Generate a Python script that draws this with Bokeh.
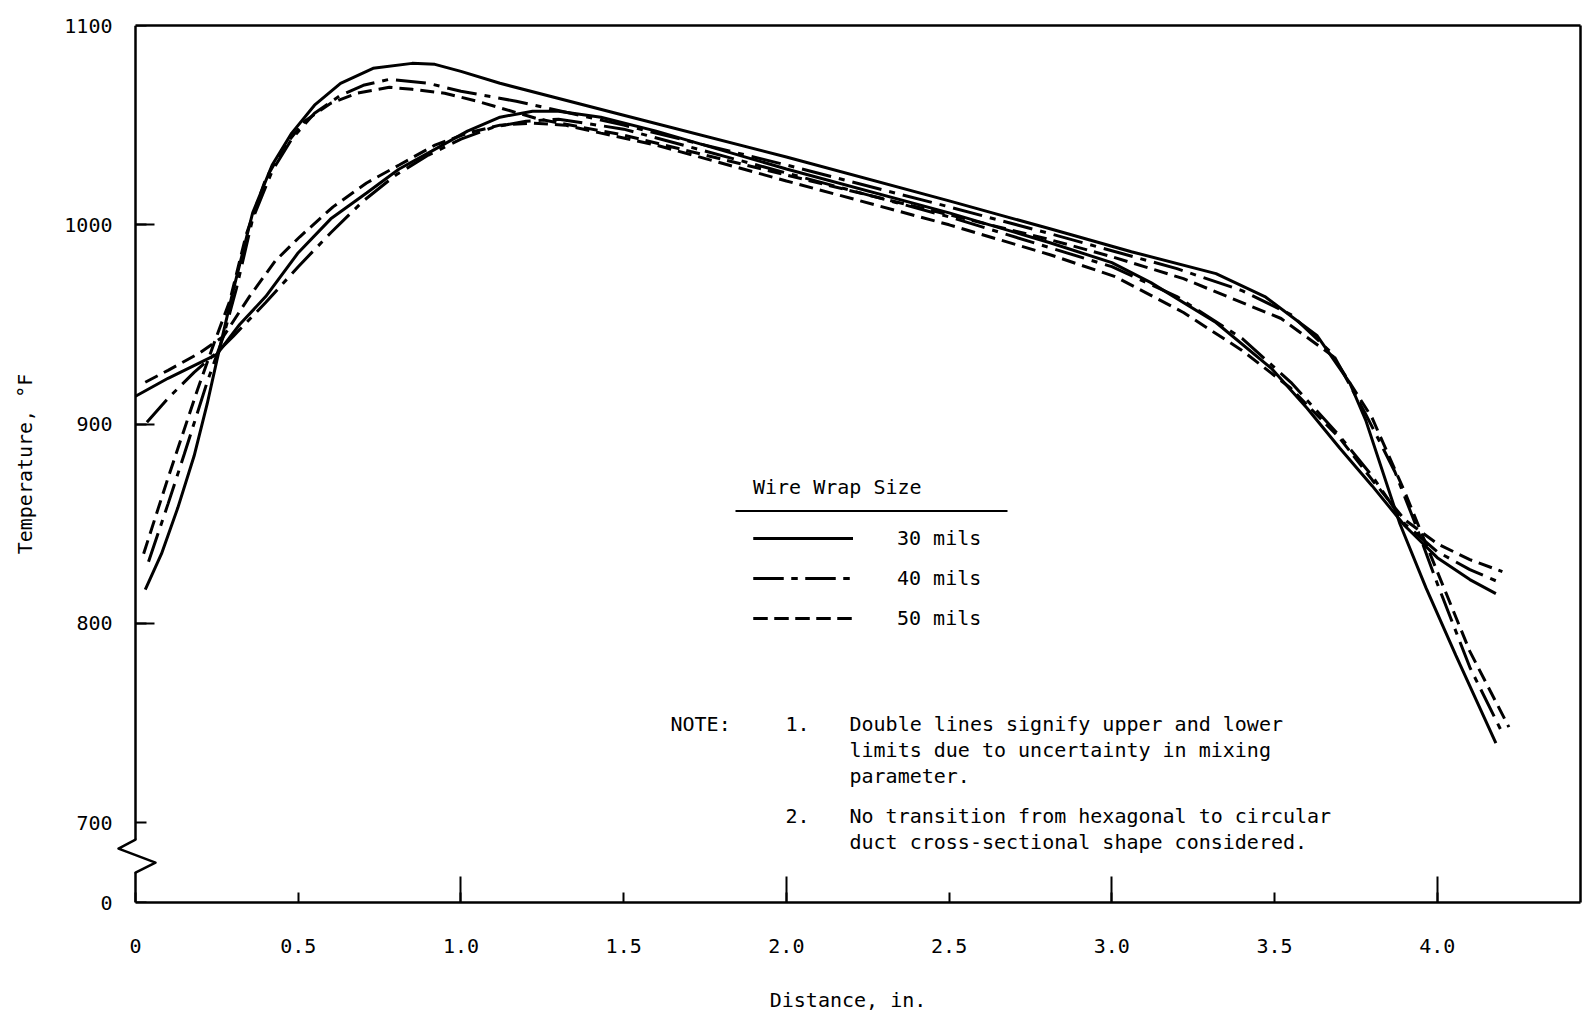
from bokeh.plotting import figure
from bokeh.models import (Range1d, FixedTicker, LinearAxis, Legend, LegendItem,
                          Label, PolyAnnotation)
from bokeh.embed import file_html
from bokeh.resources import INLINE

# ---------------- data ----------------
x_ticks = [0.0, 0.5, 1.0, 1.5, 2.0, 2.5, 3.0, 3.5, 4.0]
x_tick_labels = ["0", "0.5", "1.0", "1.5", "2.0", "2.5", "3.0", "3.5", "4.0"]
x_long_ticks = [1.0, 2.0, 3.0, 4.0]
y_ticks = [660, 700, 800, 900, 1000, 1100]
y_tick_labels = ["0", "700", "800", "900", "1000", "1100"]
y_long_ticks = [800, 900, 1000]

# upper-peak family (steep)
a30_x = [0.03, 0.08, 0.13, 0.18, 0.22, 0.25, 0.30, 0.36, 0.42, 0.48, 0.55, 0.63, 0.73, 0.85, 0.92,
         1.00, 1.12, 1.50, 2.00, 2.50, 2.81, 3.06, 3.32, 3.47, 3.63, 3.73, 3.78, 3.885, 3.965, 4.057, 4.18]
a30_t = [817, 835, 858, 884, 910, 932, 967, 1006, 1030, 1046, 1060, 1071, 1078.5, 1081, 1080.5,
         1077, 1071, 1055, 1034, 1012, 998, 986.5, 975.5, 964, 944.5, 921, 902, 850, 818, 784, 740]
a40_x = [0.04, 0.10, 0.15, 0.22, 0.27, 0.31, 0.36, 0.42, 0.48, 0.55, 0.63, 0.70, 0.78, 0.90, 1.00,
         1.17, 1.50, 2.00, 2.50, 2.80, 3.00, 3.20, 3.40, 3.55, 3.68, 3.78, 3.87, 3.93, 4.00, 4.10, 4.20]
a40_t = [831, 860, 885, 921, 944, 968, 1003, 1027, 1043, 1056, 1065, 1070, 1073, 1071, 1067,
         1062, 1050, 1030, 1009, 996, 987, 978, 967, 955, 935, 905, 876, 851, 820, 778, 745]
a50_x = [0.025, 0.10, 0.19, 0.24, 0.29, 0.34, 0.40, 0.46, 0.52, 0.60, 0.68, 0.78, 0.85, 0.95, 1.05,
         1.24, 1.50, 2.00, 2.50, 2.80, 3.00, 3.22, 3.52, 3.68, 3.80, 3.90, 4.00, 4.10, 4.22]
a50_t = [835, 873, 917, 940, 962, 995, 1023, 1040, 1052, 1061, 1066, 1069, 1068, 1066, 1062,
         1053, 1045, 1025, 1005, 993, 984, 973, 953, 934, 903, 866, 826, 786, 748]

# lower-peak family (smooth)
b30_x = [0.00, 0.10, 0.20, 0.25, 0.32, 0.40, 0.50, 0.60, 0.71, 0.81, 0.91, 1.02, 1.12, 1.22, 1.30,
         1.43, 1.60, 2.00, 2.50, 2.81, 3.00, 3.12, 3.32, 3.49, 3.60, 3.70, 3.80, 3.90, 4.00, 4.10, 4.18]
b30_t = [914, 923, 931, 935, 950, 964, 986, 1003, 1016, 1028, 1037, 1047, 1054, 1057, 1057,
         1054, 1047, 1028, 1006, 991, 981, 971, 951, 928, 908, 888, 869, 849, 833, 822, 815]
b40_x = [0.035, 0.10, 0.18, 0.25, 0.30, 0.40, 0.50, 0.60, 0.70, 0.80, 0.90, 1.00, 1.10, 1.20, 1.30,
         1.50, 2.00, 2.50, 2.80, 3.00, 3.20, 3.40, 3.55, 3.70, 3.80, 3.90, 4.00, 4.10, 4.20]
b40_t = [901, 913, 926, 936, 944, 961, 979, 996, 1012, 1025, 1035, 1043, 1049, 1052, 1053,
         1048, 1026, 1004, 989, 979, 964, 943, 921, 894, 874, 850, 836, 827, 820]
b50_x = [0.03, 0.10, 0.20, 0.27, 0.35, 0.43, 0.505, 0.607, 0.71, 0.81, 0.92, 1.02, 1.12, 1.22, 1.32,
         1.43, 1.60, 2.00, 2.50, 2.81, 3.01, 3.22, 3.40, 3.55, 3.70, 3.80, 3.90, 4.00, 4.10, 4.20]
b50_t = [921, 927, 936, 944, 964, 982, 994, 1009, 1021, 1030, 1040, 1046, 1050, 1051, 1050,
         1046, 1040, 1022, 1000, 985, 974, 956, 937, 918, 893, 872, 852, 840, 832, 826]

series_labels = ["30 mils", "40 mils", "50 mils"]
note_lines = ["Double lines signify upper and lower",
              "limits due to uncertainty in mixing",
              "parameter.",
              "No transition from hexagonal to circular",
              "duct cross-sectional shape considered."]

# ---------------- layout ----------------
FONT = "DejaVu Sans Mono"
FS = "20px"
W, H = 1583, 1014
SP = 135            # pixel column of the temperature axis (x = 0)
FL, FR, FT, FB = 115, 1580, 25, 903   # frame edges (frame starts a bit left of the axis for the break mark)
X1 = 4.44
K = (FR - SP) / X1  # px per inch
X0 = -(SP - FL) / K
Y0, Y1 = 660.0, 1100.0


def dx(px):
    return (px - SP) / K


def dy(py):
    return Y1 - (py - FT) * (Y1 - Y0) / (FB - FT)


p = figure(width=W, height=H, x_range=Range1d(X0, X1), y_range=Range1d(Y0, Y1),
           output_backend="svg", toolbar_location=None,
           min_border_left=FL, min_border_right=W - FR,
           min_border_top=FT, min_border_bottom=H - FB)
p.xgrid.visible = False
p.ygrid.visible = False
p.outline_line_color = None
p.background_fill_color = "white"
p.border_fill_color = "white"

xa = p.xaxis[0]
xa.bounds = (0, X1)
xa.ticker = FixedTicker(ticks=x_ticks, minor_ticks=x_long_ticks)
xa.major_label_overrides = {t: s for t, s in zip(x_ticks, x_tick_labels)}
xa.major_tick_in = 10
xa.major_tick_out = 0
xa.minor_tick_in = 26
xa.minor_tick_out = 0
xa.axis_line_width = 2.5
xa.major_tick_line_width = 2
xa.minor_tick_line_width = 2
xa.major_label_standoff = 36
xa.major_label_text_font = FONT
xa.major_label_text_font_size = FS
xa.major_label_text_color = "black"
xa.axis_label = "Distance, in."
xa.axis_label_text_font = FONT
xa.axis_label_text_font_size = FS
xa.axis_label_text_font_style = "normal"
xa.axis_label_text_color = "black"
xa.axis_label_standoff = 32

# labels of the temperature axis (line and ticks drawn by the axis at x = 0 below)
ya = p.yaxis[0]
ya.ticker = FixedTicker(ticks=y_ticks)
ya.major_label_overrides = {t: s for t, s in zip(y_ticks, y_tick_labels)}
ya.axis_line_color = None
ya.major_tick_line_color = None
ya.minor_tick_line_color = None
ya.major_tick_out = 0
ya.major_tick_in = 0
ya.major_label_standoff = 3
ya.major_label_text_font = FONT
ya.major_label_text_font_size = FS
ya.major_label_text_color = "black"
ya.axis_label = "Temperature, °F"
ya.axis_label_text_font = FONT
ya.axis_label_text_font_size = FS
ya.axis_label_text_font_style = "normal"
ya.axis_label_text_color = "black"
ya.axis_label_standoff = 24

ya2 = LinearAxis(fixed_location=0,
                 ticker=FixedTicker(ticks=y_ticks, minor_ticks=y_long_ticks),
                 major_tick_in=11, major_tick_out=0, minor_tick_in=19, minor_tick_out=0,
                 axis_line_width=2.5, major_tick_line_width=2, minor_tick_line_width=2,
                 major_label_text_font_size="1px", major_label_text_color=None,
                 major_label_standoff=0)
p.add_layout(ya2, "left")

for side in ("above", "right"):
    ax = LinearAxis(ticker=FixedTicker(ticks=[]), axis_line_width=2.5,
                    major_tick_line_color=None, minor_tick_line_color=None,
                    major_label_text_font_size="1px", major_label_text_color=None,
                    major_label_standoff=0)
    if side == "above":
        ax.bounds = (0, X1)
    p.add_layout(ax, side)

# ---------------- curves ----------------
dash = {"30 mils": "solid", "40 mils": "30 8 6 8", "50 mils": "14 7"}
fam = {"30 mils": [(a30_x, a30_t), (b30_x, b30_t)],
       "40 mils": [(a40_x, a40_t), (b40_x, b40_t)],
       "50 mils": [(a50_x, a50_t), (b50_x, b50_t)]}
items = []
for lab in series_labels:
    rs = []
    for xs, ts in fam[lab]:
        rs.append(p.line(xs, ts, line_color="black", line_width=3, line_dash=dash[lab]))
    items.append(LegendItem(label=lab, renderers=rs))

legend = Legend(items=items, location=(753 - FL, 272), title="Wire Wrap Size",
                title_text_font=FONT, title_text_font_size=FS, title_text_font_style="normal",
                title_text_color="black", title_standoff=27,
                label_text_font=FONT, label_text_font_size=FS, label_text_color="black",
                glyph_width=100, glyph_height=20, label_height=20, label_standoff=44,
                spacing=16, padding=0, margin=0, border_line_color=None,
                background_fill_alpha=0)
p.add_layout(legend)

# legend rule under its title
p.add_layout(PolyAnnotation(xs=[dx(735), dx(1007)], ys=[dy(511), dy(511)],
                            line_color="black", line_alpha=1.0, line_width=2,
                            fill_color=None, level="overlay"))

# axis break (zigzag) on the temperature axis
p.add_layout(PolyAnnotation(xs=[0, 0], ys=[dy(840), dy(873)], line_color="white",
                            line_alpha=1.0, line_width=7, fill_color=None, level="overlay"))
zx = [0, dx(118), dx(155), 0, dx(155), dx(118)]
zy = [dy(840), dy(849), dy(863), dy(873), dy(863), dy(849)]
p.add_layout(PolyAnnotation(xs=zx, ys=zy, line_color="black", line_alpha=1.0, line_width=2.5,
                            line_join="round", fill_color=None, level="overlay"))

# notes
def add_text(px, py, txt):
    p.add_layout(Label(x=dx(px), y=dy(py), text=txt, text_font=FONT, text_font_size=FS,
                       text_color="black", text_baseline="middle", text_align="left"))

add_text(670, 724, "NOTE:")
add_text(785, 724, "1.")
add_text(785, 816, "2.")
for txt, py in zip(note_lines, [724, 750, 776, 816, 842]):
    add_text(849, py, txt)

open("out.html", "w").write(file_html(p, INLINE))
